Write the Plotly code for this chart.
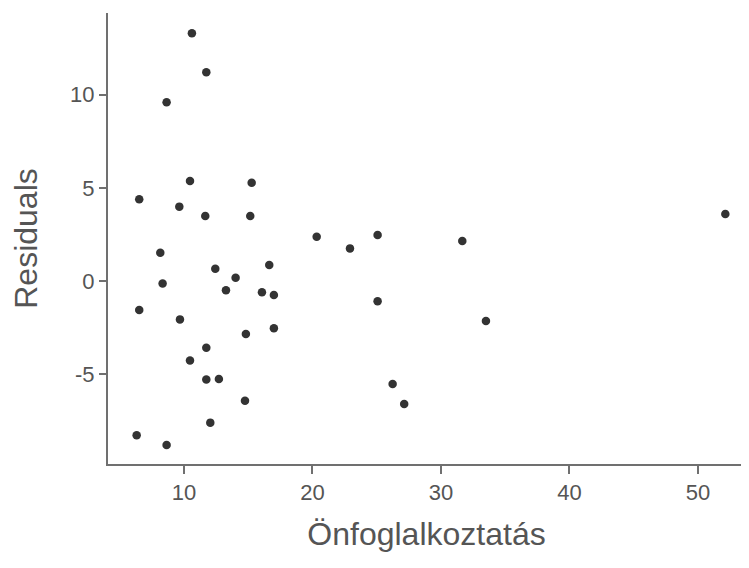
import plotly.graph_objects as go

# Önfoglalkoztatás (x) and Residuals (y)
x_vals = [10.62, 11.74, 8.65, 10.47, 15.27, 6.52, 9.64, 11.66, 15.16, 20.33,
          22.92, 25.07, 8.16, 12.44, 16.64, 14.02, 8.34,
          13.27, 16.07, 17.0, 25.07, 6.52, 9.69, 17.0, 14.82, 11.74,
          10.47, 11.74, 12.72, 14.75, 12.05, 6.32, 8.65,
          31.66, 52.13, 33.5, 26.24, 27.14]
residuals = [13.29, 11.2, 9.59, 5.36, 5.27, 4.38, 3.99, 3.49, 3.49, 2.38,
             1.75, 2.47, 1.52, 0.66, 0.86, 0.18, -0.14,
             -0.5, -0.61, -0.75, -1.09, -1.56, -2.06, -2.54, -2.84, -3.58,
             -4.27, -5.28, -5.26, -6.42, -7.6, -8.28, -8.8,
             2.15, 3.59, -2.15, -5.53, -6.6]

x_ticks = [10, 20, 30, 40, 50]
y_ticks = [-5, 0, 5, 10]

axis_color = "#707070"
text_color = "#555555"
font_family = "Liberation Sans, Arial, sans-serif"

fig = go.Figure(
    go.Scatter(
        x=x_vals, y=residuals, mode="markers",
        marker=dict(size=8.5, color="#333333", line=dict(width=0)),
        hoverinfo="x+y",
    )
)

fig.update_layout(
    width=741, height=560,
    margin=dict(l=100, r=4, t=5, b=104),
    paper_bgcolor="white", plot_bgcolor="white",
    showlegend=False,
    font=dict(family=font_family, color=text_color),
)

fig.update_xaxes(
    range=[4.09, 53.66], tickvals=x_ticks, ticktext=[str(v) for v in x_ticks],
    showgrid=False, zeroline=False,
    showline=True, linecolor=axis_color, linewidth=2,
    ticks="outside", ticklen=8, tickwidth=2, tickcolor=axis_color,
    tickfont=dict(size=22, color=text_color, family=font_family),
    title=dict(text="Önfoglalkoztatás", font=dict(size=32, color=text_color, family=font_family), standoff=18),
)
fig.update_yaxes(
    range=[-9.82, 14.38], tickvals=y_ticks, ticktext=[str(v) for v in y_ticks],
    showgrid=False, zeroline=False,
    showline=True, linecolor=axis_color, linewidth=2,
    ticks="outside", ticklen=7, tickwidth=2, tickcolor=axis_color,
    tickfont=dict(size=22, color=text_color, family=font_family),
    title=dict(text="Residuals", font=dict(size=32, color=text_color, family=font_family), standoff=30),
)

fig.write_html("out.html")
